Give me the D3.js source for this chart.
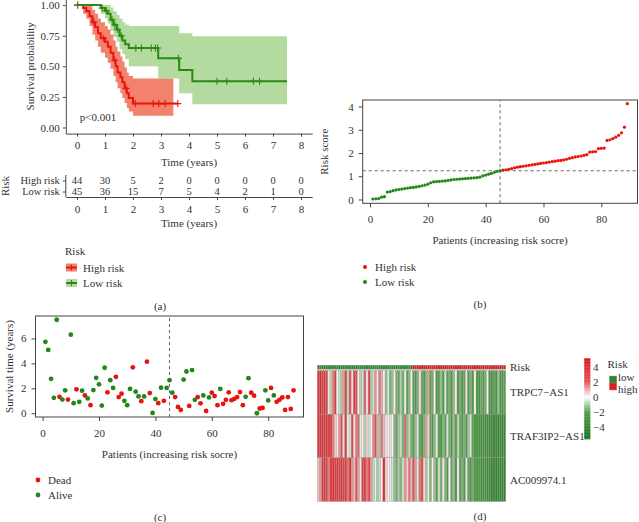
<!DOCTYPE html>
<html><head><meta charset="utf-8">
<script src="https://cdn.jsdelivr.net/npm/d3@7/dist/d3.min.js"></script>
<style>
body{margin:0;background:#fff}
svg{display:block}
text{font-family:"Liberation Serif","Times New Roman",serif;fill:#333}
</style>
</head><body>
<svg id="c" width="639" height="522"></svg>
<script>
// ---------- Panel (a): Kaplan-Meier ----------
const kmTicks = [0,1,2,3,4,5,6,7,8];
const survTicks = [0, 0.25, 0.5, 0.75, 1];
const redTimes = [0, 0.22, 0.33, 0.45, 0.55, 0.65, 0.75, 0.85, 1.0, 1.1, 1.2, 1.3, 1.38, 1.45, 1.55, 1.62, 1.7, 1.78, 1.85, 2.0];
const redSurv  = [1.0, 0.977, 0.95, 0.91, 0.86, 0.82, 0.77, 0.73, 0.70, 0.66, 0.61, 0.55, 0.50, 0.45, 0.41, 0.37, 0.32, 0.28, 0.24, 0.195];
const redUpper = [1, 1, 1, 0.99, 0.96, 0.93, 0.89, 0.86, 0.83, 0.80, 0.76, 0.71, 0.66, 0.62, 0.58, 0.54, 0.49, 0.45, 0.42, 0.40];
const redLower = [1, 0.93, 0.89, 0.83, 0.76, 0.71, 0.66, 0.61, 0.57, 0.53, 0.48, 0.42, 0.37, 0.32, 0.28, 0.24, 0.20, 0.16, 0.13, 0.095];
const redBandEnd = 3.44, redLineEnd = 3.6;
const redCensor = [0.02, 0.6, 0.95, 1.35, 1.75, 2.08, 2.72, 2.92, 3.15, 3.6];
const greenTimes = [0, 0.85, 1.0, 1.1, 1.2, 1.3, 1.42, 1.52, 1.62, 1.72, 1.85, 2.9, 3.65, 4.12];
const greenSurv  = [1, 0.977, 0.953, 0.93, 0.88, 0.84, 0.80, 0.75, 0.71, 0.68, 0.65, 0.565, 0.47, 0.377];
const greenUpper = [1, 1, 1, 1, 0.98, 0.95, 0.92, 0.89, 0.86, 0.84, 0.83, 0.83, 0.77, 0.745];
const greenLower = [1, 0.93, 0.89, 0.85, 0.79, 0.74, 0.70, 0.64, 0.60, 0.56, 0.50, 0.40, 0.28, 0.19];
const greenEnd = 7.5;
const greenCensor = [0.02, 0.9, 1.05, 1.25, 1.35, 1.45, 1.58, 2.1, 2.3, 2.65, 2.8, 2.88, 3.62, 5.0, 5.35, 6.3, 6.52];
const riskGroups = ["High risk", "Low risk"];
const atRiskHigh = [44, 30, 5, 2, 0, 0, 0, 0, 0];
const atRiskLow  = [45, 36, 15, 7, 5, 4, 2, 1, 0];

// ---------- Panel (b): risk score ----------
const riskScore = [0.02,0.03,0.04,0.10,0.12,0.32,0.34,0.38,0.41,0.43,0.45,0.47,0.49,0.51,0.52,0.54,0.56,0.59,0.62,0.66,
  0.72,0.76,0.77,0.78,0.79,0.80,0.82,0.84,0.86,0.87,0.88,0.89,0.90,0.91,0.92,0.93,0.94,0.96,1.02,1.05,
  1.09,1.12,1.17,1.21,1.24,1.26,1.28,1.30,1.33,1.36,1.39,1.41,1.43,1.45,1.47,1.49,1.51,1.53,1.55,1.57,
  1.59,1.61,1.63,1.65,1.67,1.68,1.70,1.73,1.77,1.80,1.83,1.85,1.87,1.90,1.93,2.04,2.05,2.06,2.19,2.20,
  2.21,2.54,2.57,2.62,2.68,2.76,2.87,3.11,4.12];
const lowCount = 45;
const riskCut = 1.235;
const patientTicks = [0,20,40,60,80];
const scoreTicks = [0,1,2,3,4];

// ---------- Panel (c): survival status ----------
const survTime = [5.73,5.08,2.76,1.24,7.5,1.32,1.1,1.84,1.1,6.3,
  0.81,1.92,0.92,1.81,1.43,1.19,0.65,1.86,2.84,2.32,
  0.62,3.65,1.68,2.65,2.03,2.92,1.3,1.57,1.0,0.65,
  1.95,3.68,1.73,1.35,0.97,1.35,4.14,1.62,0.03,1.14,
  0.81,2.05,1.0,2.03,2.65,1.65,1.3,0.51,0.27,2.7,
  3.35,0.59,3.46,1.08,1.3,0.8,1.43,0.18,1.27,1.65,
  1.38,0.65,1.95,0.76,1.08,1.68,1.05,1.16,1.3,1.7,
  0.65,1.32,2.81,1.65,1.41,0.0,0.38,0.43,1.84,1.03,
  2.03,1.43,0.92,1.08,1.27,0.27,1.3,0.35,1.84];
const status = [0,0,0,0,0,1,0,0,1,0, 0,1,0,0,1,0,1,0,0,0, 0,0,1,0,0,1,1,1,0,0,
  0,1,0,0,1,0,1,1,0,0, 1,0,1,0,0,0,1,1,1,0, 0,1,0,0,1,1,0,1,0,1,
  1,1,0,1,1,1,1,1,1,1, 1,0,0,1,1,0,1,1,0,0, 1,0,1,1,1,1,1,1,1];
const timeTicks = [0,2,4,6];

// ---------- Panel (d): heatmap ----------
const genes = ["TRPC7\u2212AS1", "TRAF3IP2\u2212AS1", "AC009974.1"];
const exprTRPC7 = [3.5,4,3,3.5,2.5,0.3,-0.8,1.5,3,0.2, -0.6,-1,1.2,2.5,-0.7,2,0.4,3,2.2,0.1,
  -0.9,-0.5,1.8,0.3,2.6,-1,-0.6,1.3,0.2,1.6, 1.0,0.1,-1.3,-0.4,-1.6,-1.2,0.2,-1.5,-1.8,-0.9,
  -1.6,-0.3,-1.9,-1.4,0.2,-1.8,-2,-1.5,0.3,-1.7, -2.1,-1.4,1.2,-1.9,-1.6,0.1,-2,-1.8,-1.2,-2.2,
  -0.5,-1.9,-1.7,-2.3,-1.3,0.2,-2,-1.6,-2.4,-1.8, 0.4,-2.1,-1.5,-2,0.1,-2.2,-2.4,-1.7,-2,-1.6,
  -0.2,-2.3,-2.1,-1.8,-2.5,-1.2,-2,-2.3,-1.9];
const exprTRAF3IP2 = [4,3.5,3.8,3.2,3.6,3,2.8,1.5,0.6,0.3, 1.2,2,0.5,3,0.2,-0.5,2.5,0.4,1.5,1.8,
  -0.3,0.2,-0.8,0.5,-0.6,0.1,1.4,2,1,-1, 1.6,0.8,0.3,-0.2,0.4,0.1,-1.4,-1.8,-1,-0.6,
  -1.5,1.8,-1.3,-0.7,-1.6,-2,-1.2,-0.4,-1.8,-2.2, -1.5,1.2,0.5,-1.7,-2,-1.3,-0.3,-1.9,-2.3,-1.4,
  -1.8,-0.5,-1.6,-2.1,-1.2,-1.9,-0.8,-1.7,-2.2,-1.5, -2,-1.1,-0.4,-1.8,-2.4,-2.8,-2.5,-3,-2.7,-3.2,
  -2.9,-3.3,-3,-3.5,-3.2,-3.6,-3.4,-3.8,-3.5];
const exprAC009974 = [0.8,1.2,3,3.4,2.8,1.5,3.2,3.5,2.9,3.3, 3,3.6,2.7,3.1,1.6,3.4,1.3,0.8,2,1.1,
  0.3,2.8,3,1.5,2.5,1.2,-0.8,-0.3,-1,-0.6, 0.2,4,0.5,-0.2,0.3,-0.5,-1.2,-1.6,-0.9,-1.4,
  -0.5,1.3,0.6,1.6,0.9,2,1.2,-0.4,1.6,2.2, 0.5,-1,-0.3,-1.5,0.2,-1.2,-1.8,-0.5,-1.6,0.3,
  -1.4,-2,0.1,-1.7,-1.2,-2.1,-0.2,-1.9,-1.5,-2.2, -0.4,-1.8,-2.4,-1.6,-2,-2.6,-2.2,-2.8,-3,-2.7,
  -3.3,-3.1,-3.6,-3.3,-3.8,-3.5,-3.9,-3.6,-4];
const exprRows = [exprTRPC7, exprTRAF3IP2, exprAC009974];
const colorTicks = [4,2,0,-2,-4];
const riskLevels = ["low","high"];

// ================= drawing =================
const svg = d3.select("#c");
const RED = "#e8150f", GREEN = "#2a8a14";
const DOT_RED = "#e8140c", DOT_GREEN = "#23861a";
const ink = "#333";

function styleAxis(g, fs) {
  g.selectAll("path,line").attr("stroke", ink).attr("stroke-width", 0.9);
  g.selectAll("text").attr("font-size", fs || 11).attr("fill", ink)
    .attr("font-family", "Liberation Serif, Times New Roman, serif");
}
function label(x, y, txt, opts) {
  opts = opts || {};
  const t = svg.append("text").attr("x", x).attr("y", y).text(txt)
    .attr("font-size", opts.fs || 11)
    .attr("text-anchor", opts.anchor || "start");
  if (opts.rotate) t.attr("transform", `rotate(-90,${x},${y})`);
  return t;
}
function stepAt(times, vals, t) {
  const i = d3.bisectRight(times, t) - 1;
  return vals[Math.max(0, i)];
}

// ---- (a) ----
const xKM = d3.scaleLinear().domain([-0.4, 8.4]).range([65.8, 312.2]);
const yKM = d3.scaleLinear().domain([-0.05, 1.05]).range([133.6, -1]);
const gA = svg.append("g");

function bandPts(times, up, lo, end) {
  const d = times.map((t, i) => ({t, u: up[i], l: lo[i]}));
  d.push({t: end, u: up[up.length - 1], l: lo[lo.length - 1]});
  return d;
}
function linePts(times, s, end) {
  const d = times.map((t, i) => ({t, s: s[i]}));
  d.push({t: end, s: s[s.length - 1]});
  return d;
}
const area = d3.area().curve(d3.curveStepAfter).x(d => xKM(d.t)).y0(d => yKM(d.l)).y1(d => yKM(d.u));
const line = d3.line().curve(d3.curveStepAfter).x(d => xKM(d.t)).y(d => yKM(d.s));

gA.append("path").attr("d", area(bandPts(redTimes, redUpper, redLower, redBandEnd)))
  .attr("fill", "#f06c52").attr("fill-opacity", 0.85);
gA.append("path").attr("d", area(bandPts(greenTimes, greenUpper, greenLower, greenEnd)))
  .attr("fill", "#84c464").attr("fill-opacity", 0.62);
gA.append("path").attr("d", line(linePts(redTimes, redSurv, redLineEnd)))
  .attr("fill", "none").attr("stroke", RED).attr("stroke-width", 2);
gA.append("path").attr("d", line(linePts(greenTimes, greenSurv, greenEnd)))
  .attr("fill", "none").attr("stroke", GREEN).attr("stroke-width", 2);

function plus(g, x, y, col, r) {
  g.append("path").attr("d", `M${x - r},${y}H${x + r}M${x},${y - r}V${y + r}`)
    .attr("stroke", col).attr("stroke-width", 1.1).attr("fill", "none");
}
redCensor.forEach(t => plus(gA, xKM(t), yKM(stepAt(redTimes, redSurv, t)), RED, 3.5));
greenCensor.forEach(t => plus(gA, xKM(t), yKM(stepAt(greenTimes, greenSurv, t)), GREEN, 3.5));

const axAy = gA.append("g").attr("transform", `translate(${xKM.range()[0]},0)`)
  .call(d3.axisLeft(yKM).tickValues(survTicks).tickFormat(d3.format(".2f")).tickSize(3).tickSizeOuter(0).tickPadding(3));
styleAxis(axAy);
const axAx = gA.append("g").attr("transform", `translate(0,${yKM.range()[0]})`)
  .call(d3.axisBottom(xKM).tickValues(kmTicks).tickSize(3).tickSizeOuter(0).tickPadding(5));
styleAxis(axAx);
label(34, yKM(0.5), "Survival probability", {anchor: "middle", rotate: true});
label(xKM(4), 166, "Time (years)", {anchor: "middle"});
label(xKM(0.1), 120.5, "p<0.001");

// risk table
const yTab = d3.scalePoint().domain(riskGroups).range([180.5, 191.5]);
const tabBottom = 197;
const axTy = gA.append("g").attr("transform", `translate(${xKM.range()[0]},0)`)
  .call(d3.axisLeft(yTab).tickSize(3).tickPadding(3).tickSizeOuter(0));
axTy.select(".domain").attr("d", `M0,175V${tabBottom}`);
styleAxis(axTy, 10.5);
axTy.selectAll("text").attr("fill", "#222");
const axTx = gA.append("g").attr("transform", `translate(0,${tabBottom})`)
  .call(d3.axisBottom(xKM).tickValues(kmTicks).tickSize(3).tickSizeOuter(0).tickPadding(5));
styleAxis(axTx);
[atRiskHigh, atRiskLow].forEach((arr, r) => {
  arr.forEach((v, i) => {
    label(xKM(kmTicks[i]), yTab(riskGroups[r]) + 3.6, v, {anchor: "middle", fs: 10.5}).attr("fill", "#222");
  });
});
label(xKM(4), 227, "Time (years)", {anchor: "middle"});
label(9, 186, "Risk", {anchor: "middle", rotate: true});

// legend (a)
label(65, 255, "Risk");
[[RED, "#f06c52", 0.85, "High risk"], [GREEN, "#84c464", 0.62, "Low risk"]].forEach((d, i) => {
  const cy = 267.5 + i * 15.5;
  gA.append("rect").attr("x", 66).attr("y", cy - 4).attr("width", 11).attr("height", 8)
    .attr("fill", d[1]).attr("fill-opacity", d[2]);
  gA.append("path").attr("d", `M66,${cy}H77`).attr("stroke", d[0]).attr("stroke-width", 2);
  plus(gA, 71.5, cy, d[0], 3);
  label(83, cy + 4, d[3]);
});
label(160, 310, "(a)", {anchor: "middle"});

// ---- (b) ----
const patients = d3.range(1, riskScore.length + 1);
const xB = d3.scaleLinear().domain([-2.52, 92.52]).range([362.7, 637.5]);
const yB = d3.scaleLinear().domain([-0.164, 4.28]).range([203.3, 100]);
const gB = svg.append("g");
gB.append("rect").attr("x", xB.range()[0]).attr("y", yB.range()[1])
  .attr("width", xB.range()[1] - xB.range()[0]).attr("height", yB.range()[0] - yB.range()[1])
  .attr("fill", "none").attr("stroke", "#444").attr("stroke-width", 1);
gB.append("line").attr("x1", xB.range()[0]).attr("x2", xB.range()[1]).attr("y1", yB(riskCut)).attr("y2", yB(riskCut))
  .attr("stroke", "#666").attr("stroke-dasharray", "3,3");
gB.append("line").attr("x1", xB(lowCount)).attr("x2", xB(lowCount)).attr("y1", yB.range()[0]).attr("y2", yB.range()[1])
  .attr("stroke", "#666").attr("stroke-dasharray", "3,3");
gB.selectAll("circle.pt").data(riskScore).join("circle")
  .attr("cx", (d, i) => xB(patients[i])).attr("cy", d => yB(d)).attr("r", 1.6)
  .attr("fill", (d, i) => patients[i] <= lowCount ? DOT_GREEN : DOT_RED);
const axBy = gB.append("g").attr("transform", `translate(${xB.range()[0]},0)`)
  .call(d3.axisLeft(yB).tickValues(scoreTicks).tickFormat(d3.format("d")).tickSize(4).tickPadding(5));
axBy.select(".domain").remove();
styleAxis(axBy);
const axBx = gB.append("g").attr("transform", `translate(0,${yB.range()[0]})`)
  .call(d3.axisBottom(xB).tickValues(patientTicks).tickFormat(d3.format("d")).tickSize(4).tickPadding(8));
axBx.select(".domain").remove();
styleAxis(axBx);
label(328, (yB.range()[0] + yB.range()[1]) / 2, "Risk score", {anchor: "middle", rotate: true});
label((xB.range()[0] + xB.range()[1]) / 2, 244, "Patients (increasing risk socre)", {anchor: "middle"});
[[DOT_RED, "High risk"], [DOT_GREEN, "Low risk"]].forEach((d, i) => {
  const cy = 267 + i * 15;
  gB.append("circle").attr("cx", 365).attr("cy", cy).attr("r", 2).attr("fill", d[0]);
  label(375, cy + 4, d[1]);
});
label(480, 308, "(b)", {anchor: "middle"});

// ---- (c) ----
const xC = d3.scaleLinear().domain([-2.52, 92.52]).range([35.5, 303.5]);
const yC = d3.scaleLinear().domain([-0.3, 7.8]).range([417, 316]);
const gC = svg.append("g");
gC.append("rect").attr("x", xC.range()[0]).attr("y", yC.range()[1])
  .attr("width", xC.range()[1] - xC.range()[0]).attr("height", yC.range()[0] - yC.range()[1])
  .attr("fill", "none").attr("stroke", "#444").attr("stroke-width", 1);
gC.append("line").attr("x1", xC(lowCount)).attr("x2", xC(lowCount)).attr("y1", yC.range()[0]).attr("y2", yC.range()[1])
  .attr("stroke", "#666").attr("stroke-dasharray", "3,3");
gC.selectAll("circle.pt").data(survTime).join("circle")
  .attr("cx", (d, i) => xC(patients[i])).attr("cy", d => yC(d)).attr("r", 2.4)
  .attr("fill", (d, i) => status[i] === 1 ? DOT_RED : DOT_GREEN);
const axCy = gC.append("g").attr("transform", `translate(${xC.range()[0]},0)`)
  .call(d3.axisLeft(yC).tickValues(timeTicks).tickFormat(d3.format("d")).tickSize(4).tickPadding(5));
axCy.select(".domain").remove();
styleAxis(axCy);
const axCx = gC.append("g").attr("transform", `translate(0,${yC.range()[0]})`)
  .call(d3.axisBottom(xC).tickValues(patientTicks).tickFormat(d3.format("d")).tickSize(4).tickPadding(8));
axCx.select(".domain").remove();
styleAxis(axCx);
label(13, (yC.range()[0] + yC.range()[1]) / 2, "Survival time (years)", {anchor: "middle", rotate: true});
label((xC.range()[0] + xC.range()[1]) / 2, 458, "Patients (increasing risk socre)", {anchor: "middle"});
[[DOT_RED, "Dead"], [DOT_GREEN, "Alive"]].forEach((d, i) => {
  const cy = 480 + i * 15;
  gC.append("circle").attr("cx", 38).attr("cy", cy).attr("r", 2.4).attr("fill", d[0]);
  label(48, cy + 4, d[1]);
});
label(160, 521, "(c)", {anchor: "middle"});

// ---- (d) heatmap ----
const gD = svg.append("g");
const xH = d3.scaleBand().domain(patients).range([317.3, 505.7]);
const yH = d3.scaleBand().domain(genes).range([370.5, 501.5]);
const heatColor = d3.scaleLinear().domain([-5.6, -2, 0, 2, 5])
  .range(["#157015", "#4d9a42", "#ffffff", "#e24e50", "#e0141a"]);
const riskColor = d3.scaleOrdinal().domain(riskLevels).range(["#2a8a2a", "#e3191c"]);
// annotation row
gD.selectAll("rect.ann").data(patients).join("rect")
  .attr("x", d => xH(d)).attr("y", 365.2).attr("width", xH.bandwidth()).attr("height", 4)
  .attr("fill", d => riskColor(d <= lowCount ? "low" : "high"))
  .attr("stroke", "#999").attr("stroke-width", 0.35);
exprRows.forEach((row, r) => {
  gD.selectAll(null).data(row).join("rect")
    .attr("x", (d, i) => xH(patients[i])).attr("y", yH(genes[r]))
    .attr("width", xH.bandwidth()).attr("height", yH.bandwidth())
    .attr("fill", d => heatColor(d))
    .attr("stroke", "#999").attr("stroke-width", 0.35);
});
label(510, 371, "Risk");
genes.forEach(g => label(510, yH(g) + yH.bandwidth() / 2 + 4, g));

// color bar
const yLeg = d3.scaleLinear().domain([-5.6, 5]).range([439, 359]);
const steps = d3.range(-5.6, 5.0001, 0.1);
gD.selectAll("rect.cb").data(steps).join("rect")
  .attr("x", 584.3).attr("width", 6).attr("y", d => yLeg(d + 0.1)).attr("height", yLeg(0) - yLeg(0.1) + 0.3)
  .attr("fill", d => heatColor(d + 0.05));
colorTicks.forEach(v => label(593, yLeg(v) + 4, v < 0 ? "\u2212" + Math.abs(v) : String(v)));

// risk legend
label(607.5, 368, "Risk");
riskLevels.forEach((lv, i) => {
  gD.append("rect").attr("x", 609.3).attr("y", 376 + i * 7).attr("width", 7.5).attr("height", 7)
    .attr("fill", riskColor(lv)).attr("stroke", "#999").attr("stroke-width", 0.4);
  label(618, 381 + i * 12, lv);
});
label(480, 520, "(d)", {anchor: "middle"});
</script>
</body></html>
